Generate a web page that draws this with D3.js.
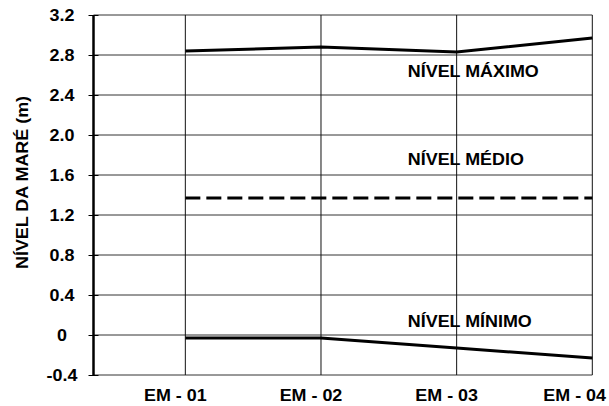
<!DOCTYPE html>
<html><head><meta charset="utf-8">
<script src="https://cdn.jsdelivr.net/npm/d3@7"></script>
<style>
html,body{margin:0;padding:0;background:#fff;}
text{font-family:"Liberation Sans",Arial,sans-serif;font-weight:bold;fill:#000;}
</style></head>
<body>
<svg id="chart" width="609" height="406"></svg>
<script>
const categories = ["EM - 01", "EM - 02", "EM - 03", "EM - 04"];
const nivelMaximo = [2.84, 2.88, 2.83, 2.97];
const nivelMedio = [1.37, 1.37, 1.37, 1.37];
const nivelMinimo = [-0.03, -0.03, -0.13, -0.23];
const yTicks = [-0.4, 0, 0.4, 0.8, 1.2, 1.6, 2.0, 2.4, 2.8, 3.2];
const yTickLabels = ["-0.4", "0", "0.4", "0.8", "1.2", "1.6", "2.0", "2.4", "2.8", "3.2"];
const seriesNames = ["NÍVEL MÁXIMO", "NÍVEL MÉDIO", "NÍVEL MÍNIMO"];
const yTitle = "NÍVEL DA MARÉ (m)";

(function () {
const mLeft = 93.5, mRight = 592.3, mTop = 15, mBottom = 375;
const SX = 1.12; // horizontal text stretch
const FS = 16;

const svg = d3.select("#chart");
const x = d3.scaleLinear().domain([0.323, categories.length]).range([mLeft, mRight]);
const y = d3.scaleLinear().domain([-0.4, 3.2]).range([mBottom, mTop]);

// horizontal gridlines
svg.append("g").selectAll("line").data(yTicks).join("line")
  .attr("x1", mLeft).attr("x2", mRight)
  .attr("y1", d => y(d)).attr("y2", d => y(d))
  .attr("stroke", "#333").attr("stroke-width", 1);

// vertical gridlines at categories
svg.append("g").selectAll("line").data(categories).join("line")
  .attr("x1", (d, i) => x(i + 1)).attr("x2", (d, i) => x(i + 1))
  .attr("y1", mTop).attr("y2", mBottom)
  .attr("stroke", "#111").attr("stroke-width", 1);

// left axis
const axis = d3.axisLeft(y).tickValues(yTicks)
  .tickFormat((d, i) => yTickLabels[i]).tickSize(5).tickPadding(0);
const ag = svg.append("g").attr("transform", `translate(${mLeft},0)`).call(axis);
ag.select(".domain").remove();
ag.selectAll(".tick line").attr("x1", -5).attr("x2", 5).attr("stroke", "#000").attr("stroke-width", 1);
ag.selectAll(".tick text").remove();
svg.append("line").attr("x1", mLeft).attr("x2", mLeft).attr("y1", mTop).attr("y2", mBottom)
  .attr("stroke", "#000").attr("stroke-width", 2.5);

function stretchText(g, str, tx, ty, anchor, extra) {
  return g.append("text")
    .attr("transform", `translate(${tx},${ty}) ${extra || ""} scale(${SX},1)`)
    .attr("text-anchor", anchor).attr("font-size", FS).text(str);
}

// y tick labels
yTicks.forEach((v, i) => stretchText(svg, yTickLabels[i], 62, y(v) + 6, "middle"));

// category labels
categories.forEach((c, i) => {
  const t = stretchText(svg, c, 0, 401, "middle");
  const w = t.node().getComputedTextLength() * SX;
  const cx = Math.min(x(i + 1) - 10, 606 - w / 2);
  t.attr("transform", `translate(${cx},401) scale(${SX},1)`);
});

// y title
stretchText(svg, yTitle, 28, 182.5, "middle", "rotate(-90)");

// lines
const line = d3.line().x((d, i) => x(i + 1)).y(d => y(d));
svg.append("path").datum(nivelMaximo).attr("d", line)
  .attr("fill", "none").attr("stroke", "#000").attr("stroke-width", 3);
svg.append("path").datum(nivelMinimo).attr("d", line)
  .attr("fill", "none").attr("stroke", "#000").attr("stroke-width", 3);
svg.append("path").datum(nivelMedio).attr("d", line)
  .attr("fill", "none").attr("stroke", "#000").attr("stroke-width", 3)
  .attr("stroke-dasharray", "15,6");

// series labels (anchored in data units)
const labelPos = [[2.64, 2.58], [2.64, 1.70], [2.64, 0.08]];
seriesNames.forEach((s, i) => stretchText(svg, s, x(labelPos[i][0]), y(labelPos[i][1]), "start"));
})();
</script>
</body></html>
